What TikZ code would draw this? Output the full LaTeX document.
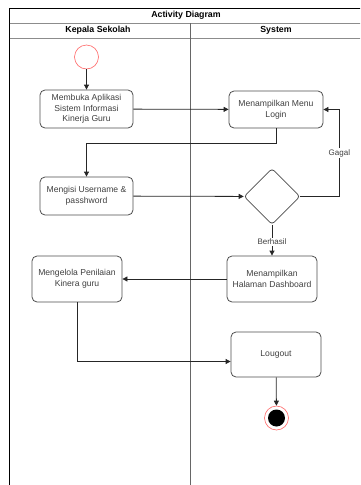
\documentclass[tikz,border=0pt]{standalone}
\usepackage{fontspec}
\setmainfont{Liberation Sans}
\usetikzlibrary{shapes.geometric,arrows.meta}

\begin{document}
\begin{tikzpicture}[x=1pt,y=-1pt, line width=0.8pt,
    act/.style={draw=black!70, rounded corners=5pt, align=center, inner sep=0pt,
      text=black!75, font=\fontsize{8.6}{10.6}\selectfont},
    flow/.style={draw=black!85, -{Triangle[length=5pt,width=5pt]}},
    lbl/.style={fill=white, inner sep=1pt, text=black!75, font=\fontsize{8}{9}\selectfont},
    head/.style={font=\bfseries\fontsize{8.8}{10}\selectfont},
    ujung/.style={circle, draw=red!60, line width=0.6pt, fill=white, minimum size=24pt, inner sep=0pt}]
    \useasboundingbox (0,0) rectangle (360,485);
    \clip (0,0) rectangle (360,485);

    % frame and lanes
    \draw[black] (9.5,490) -- (9.5,8) -- (362,8) -- (362,490);
    \draw[black!45] (9.5,23) -- (362,23);
    \draw[black!45] (9.5,38) -- (362,38);
    \draw[black!60] (190,23) -- (190,490);
    \node[head] (judul) at (186,15.5) {Activity Diagram};
    \node[head] (kepsek) at (98,30.5) {Kepala Sekolah};
    \node[head] (sistem) at (276,30.5) {System};

    % activities
    \node (mulai) [ujung] at (86.5,57) {};
    \node (buka) [act, minimum width=93pt, minimum height=38pt] at (86.5,109)
      {Membuka Aplikasi\\Sistem Informasi\\Kinerja Guru};
    \node (menu) [act, minimum width=94pt, minimum height=37pt] at (276,109.5)
      {Menampilkan Menu\\Login};
    \node (isi) [act, minimum width=93pt, minimum height=38pt] at (86.5,196)
      {Mengisi Username \&\\passhword};
    \node (cek) [diamond, draw=black!70, rounded corners=3pt, minimum width=56pt,
      minimum height=56pt, inner sep=0pt] at (272,196.5) {};
    \node (dash) [act, minimum width=90pt, minimum height=46pt] at (272,279)
      {Menampilkan\\Halaman Dashboard};
    \node (kelola) [act, minimum width=90pt, minimum height=46pt] at (77,279)
      {Mengelola Penilaian\\Kinera guru};
    \node (keluar) [act, minimum width=90pt, minimum height=45pt] at (276,354.5)
      {Lougout};
    \node (selesai) [ujung] at (276.5,418) {};
    \node (titik) [circle, fill=black, minimum size=17pt, inner sep=0pt] at (selesai) {};

    % connectors
    \draw[flow] (mulai) -- (buka);
    \draw[flow] (buka) -- (menu);
    \draw[flow] (menu.south) -- ++(0,15) -| (isi.north);
    \draw[flow] (isi) -- (cek);
    \draw[flow] (cek.east) -- ++(39,0) |- (menu.east) node[lbl, pos=0.25] {Gagal};
    \draw[flow] (cek.south) -- (dash.north) node[lbl, pos=0.55] {Berhasil};
    \draw[flow] (dash) -- (kelola);
    \draw[flow] (kelola.south) |- ([yshift=-7pt]keluar.west);
    \draw[flow] (keluar) -- (selesai);
\end{tikzpicture}
\end{document}
